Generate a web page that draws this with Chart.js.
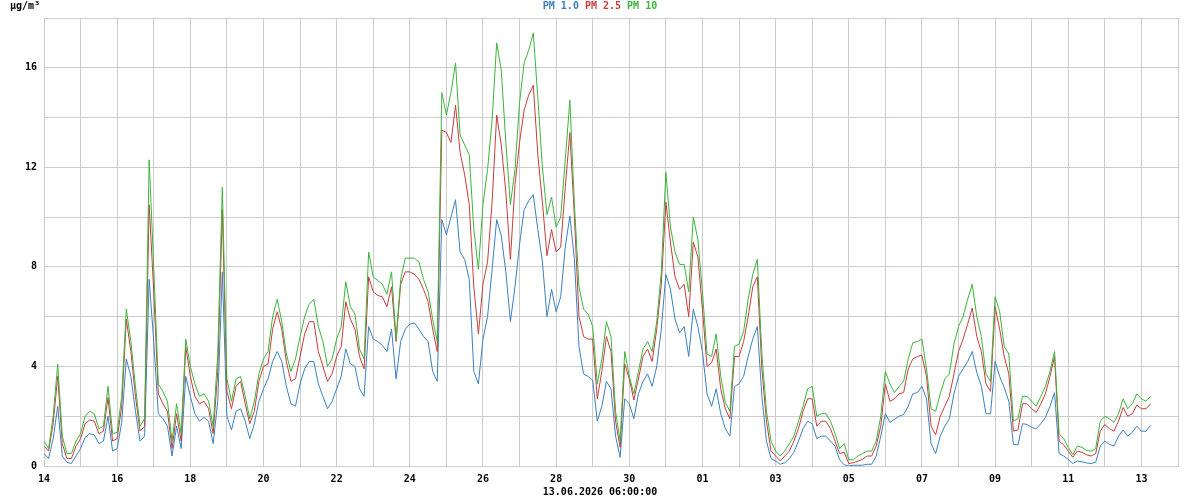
<!DOCTYPE html>
<html>
<head>
<meta charset="utf-8">
<script src="https://cdn.jsdelivr.net/npm/chart.js@4/dist/chart.umd.min.js"></script>
<style>
  body { margin: 0; background: #fff; }
  #wrap { position: relative; width: 1200px; height: 500px; }
  .txt { position: absolute; font: bold 10px "DejaVu Sans Mono", monospace; white-space: pre; line-height: 10px; }
</style>
</head>
<body>
<div id="wrap">
  <canvas id="c" width="1200" height="500"></canvas>
  <div class="txt" style="left:10px; top:1px; color:#000;">µg/m³</div>
  <div class="txt" style="left:0; width:1200px; top:1px; text-align:center;"><span style="color:#3a80c0">PM 1.0</span> <span style="color:#c83c3c">PM 2.5</span> <span style="color:#3cb43c">PM 10</span></div>
  <div class="txt" style="left:0; width:1200px; top:487px; text-align:center; color:#000;">13.06.2026 06:00:00</div>
</div>
<script>
// samples every 3 hours, from 14.05.2026 00:00 to 13.06.2026 06:00
const startDay = 14;        // 14 May 2026
const stepHours = 3;
const daysShown = 31;

const pm10 = [
  1.0, 0.7, 2.0, 4.1, 1.2, 0.5, 0.5, 1.0,
  1.3, 2.0, 2.2, 2.1, 1.5, 1.6, 3.2, 1.3,
  1.35, 2.8, 6.3, 5.0, 3.2, 1.6, 1.9, 12.3,
  8.0, 3.3, 3.0, 2.6, 1.0, 2.5, 1.3, 5.1,
  4.0, 3.3, 2.8, 2.9, 2.6, 1.6, 4.5, 11.2,
  3.5, 2.6, 3.5, 3.6, 2.8, 1.9, 2.6, 3.7,
  4.3, 4.6, 6.0, 6.7, 5.8, 4.5, 3.8, 4.3,
  5.2, 6.0, 6.5, 6.7, 5.6, 5.0, 4.0, 4.3,
  5.1, 5.6, 7.4, 6.4, 6.1, 4.7, 4.3, 8.6,
  7.6, 7.45, 7.3, 6.9, 7.8, 5.1, 7.5, 8.35,
  8.35, 8.35, 8.2, 7.5, 7.0, 5.9, 5.0, 15.0,
  14.1, 15.0, 16.2, 13.3, 12.9, 12.5, 9.5, 7.9,
  10.5, 11.9, 13.9, 17.0, 15.9, 13.0, 10.5, 11.9,
  14.6, 16.2, 16.7, 17.4, 14.8, 12.0, 10.1, 10.8,
  9.6, 10.0, 12.3, 14.7, 10.5, 7.2, 6.3, 6.1,
  5.6, 3.3, 4.3, 5.8, 5.2, 2.2, 1.0, 4.6,
  3.6, 2.9, 3.8, 4.7, 5.0, 4.6, 5.8, 7.8,
  11.8, 9.6, 8.6, 8.1, 8.1, 7.0, 10.0, 9.1,
  7.0, 4.5, 4.4, 5.3, 3.6, 2.55, 2.2, 4.8,
  4.9, 5.4, 6.7, 7.7, 8.3, 4.5, 2.2, 1.0,
  0.6, 0.4, 0.6, 0.9, 1.2, 1.8, 2.4, 3.1,
  3.2, 2.0, 2.1, 2.1, 1.8, 1.3, 0.7, 0.9,
  0.25, 0.25, 0.4, 0.5, 0.6, 0.6, 1.0, 2.0,
  3.8, 3.3, 2.95, 3.2, 3.4, 4.3, 4.95, 5.0,
  5.1, 3.9, 2.3, 2.2, 2.9, 3.5, 3.7, 4.9,
  5.6, 6.0, 6.7, 7.3, 6.0, 5.2, 3.7, 3.4,
  6.8, 6.2, 4.8, 4.5, 1.8, 1.9, 2.8, 2.8,
  2.6, 2.4, 2.8, 3.2, 3.8, 4.6, 1.3, 1.1,
  0.75, 0.45, 0.8, 0.75, 0.62, 0.6, 0.7, 1.8,
  2.0, 1.9, 1.75, 2.1, 2.7, 2.3, 2.5, 2.9,
  2.7, 2.6, 2.8
];

const pm25 = [
  0.8, 0.6, 1.7, 3.6, 0.9, 0.3, 0.3, 0.8,
  1.1, 1.7, 1.85, 1.8, 1.3, 1.4, 2.75, 1.0,
  1.1, 2.4, 5.9, 4.6, 2.8, 1.4, 1.6, 10.5,
  7.0, 2.9, 2.5, 2.2, 0.7, 2.1, 1.0, 4.8,
  3.6, 2.8, 2.5, 2.6, 2.3, 1.3, 3.8, 10.3,
  3.0, 2.3, 3.2, 3.4, 2.5, 1.7, 2.2, 3.4,
  4.0, 4.1, 5.5, 6.2, 5.5, 4.2, 3.4, 3.5,
  4.4, 5.3, 5.8, 5.8, 4.6, 4.0, 3.4, 3.7,
  4.4, 4.8, 6.6, 5.9, 5.5, 4.4, 3.9, 7.6,
  7.0, 6.85, 6.8, 6.4, 7.2, 5.0, 7.3, 7.8,
  7.8, 7.7, 7.5, 7.1, 6.6, 5.5, 4.6, 13.5,
  13.4, 13.0, 14.5, 12.6, 11.7, 10.5, 7.2, 5.3,
  7.3, 8.2, 10.6, 14.1, 12.9, 11.0, 8.3, 11.3,
  13.0, 14.3, 14.9, 15.3, 12.5, 10.6, 8.45, 9.5,
  8.6, 8.8, 11.2, 13.4, 10.0, 6.0, 5.2, 5.1,
  5.1, 2.7, 3.8, 5.2, 4.6, 1.8, 0.75, 4.1,
  3.5, 2.65, 3.5, 4.4, 4.7, 4.2, 5.5, 7.3,
  10.6, 9.0, 7.6, 7.1, 7.3, 6.0, 9.0, 8.4,
  6.3, 4.0, 4.15, 4.7, 3.1, 2.3, 1.9, 4.4,
  4.4, 5.0, 6.0, 7.2, 7.6, 3.9, 1.8, 0.6,
  0.4, 0.2, 0.4, 0.6, 1.0, 1.5, 2.2, 2.7,
  2.7, 1.6, 1.8, 1.8, 1.5, 1.0, 0.5, 0.55,
  0.1, 0.13, 0.2, 0.27, 0.4, 0.4, 0.8, 1.6,
  3.3, 2.6, 2.7, 2.9, 2.95, 3.9, 4.3, 4.4,
  4.45, 3.6, 1.6, 1.25, 2.0, 2.4, 2.8, 3.7,
  4.6, 5.1, 5.7, 6.35, 5.2, 4.6, 3.3, 3.0,
  6.4, 5.5, 4.4, 3.7, 1.4, 1.45, 2.5, 2.5,
  2.3, 2.15, 2.5, 2.9, 3.6, 4.4, 1.0, 0.85,
  0.6, 0.35, 0.6, 0.55, 0.45, 0.4, 0.5, 1.4,
  1.67, 1.5, 1.4, 1.8, 2.35, 2.0, 2.1, 2.45,
  2.3, 2.3, 2.5
];

const pm1 = [
  0.5, 0.3, 1.1, 2.4, 0.4, 0.15, 0.1, 0.4,
  0.7, 1.15, 1.3, 1.25, 0.9, 1.0, 2.0, 0.6,
  0.7, 1.75, 4.3, 3.6, 2.2, 1.0, 1.2, 7.5,
  5.0, 2.1, 1.9, 1.6, 0.4, 1.6, 0.7, 3.6,
  2.8, 2.1, 1.8, 1.95, 1.8, 0.9, 2.6, 7.8,
  2.0, 1.45, 2.2, 2.3, 1.8, 1.1, 1.7, 2.6,
  3.1, 3.5, 4.2, 4.6, 4.2, 3.2, 2.5, 2.4,
  3.3, 3.9, 4.2, 4.2, 3.3, 2.8, 2.3, 2.6,
  3.1, 3.6, 4.7, 4.1, 4.0, 3.1, 2.8, 5.6,
  5.1, 5.0, 4.85, 4.6, 5.5, 3.5, 5.0, 5.5,
  5.7, 5.75, 5.5, 5.2, 5.0, 3.8, 3.4, 9.9,
  9.3, 10.0, 10.7, 8.6, 8.3, 7.5, 3.8, 3.3,
  5.1, 6.0, 7.9, 9.9, 9.25, 7.8, 5.8, 7.2,
  8.9, 10.3, 10.65, 10.9, 9.5, 8.2, 6.0, 7.1,
  6.2, 6.8, 8.8, 10.05, 8.3, 4.8, 3.7, 3.6,
  3.45, 1.8, 2.4, 3.4, 3.1, 1.2, 0.35, 2.7,
  2.5, 1.9, 2.9, 3.4, 3.7, 3.2, 4.0, 5.5,
  7.7, 7.1, 5.9, 5.35, 5.6, 4.4, 6.3, 5.6,
  4.6, 2.9, 2.4, 3.1, 2.1, 1.5, 1.2, 3.2,
  3.3, 3.6, 4.4, 5.1, 5.6, 2.8, 1.0, 0.3,
  0.2, 0.07, 0.13, 0.3, 0.55, 1.0, 1.5, 1.8,
  1.7, 1.1, 1.2, 1.2, 1.0, 0.8, 0.25, 0.05,
  0.0, 0.03, 0.03, 0.03, 0.07, 0.07, 0.4, 1.2,
  2.1, 1.75, 1.87, 2.0, 2.07, 2.4, 2.9, 2.95,
  3.2, 2.7, 0.9, 0.5, 1.2, 1.6, 1.9, 2.9,
  3.6, 3.9, 4.2, 4.6, 3.75, 3.2, 2.1, 2.1,
  4.2, 3.6, 3.15, 2.6, 0.87, 0.85, 1.7, 1.67,
  1.55, 1.5, 1.7, 1.95, 2.4, 2.95, 0.5, 0.4,
  0.27, 0.1, 0.2, 0.17, 0.12, 0.1, 0.15, 0.8,
  1.0, 0.87, 0.8, 1.2, 1.45, 1.2, 1.35, 1.6,
  1.4, 1.4, 1.63
];

const yGridValues = [0, 2, 4, 6, 8, 10, 12, 14, 16, 18];
const yTickLabels = [0, 4, 8, 12, 16];

const hours = pm1.map((_, i) => i * stepHours);
const dayTicks = [];
for (let d = 0; d <= daysShown; d++) dayTicks.push(d * 24);

const toPoints = (arr) => arr.map((v, i) => ({ x: hours[i], y: v }));
const tickFont = { family: "'DejaVu Sans Mono', monospace", size: 10, weight: "bold" };

new Chart(document.getElementById("c").getContext("2d"), {
  type: "line",
  data: {
    datasets: [
      { label: "PM 10", data: toPoints(pm10), borderColor: "#3cb43c", order: 0 },
      { label: "PM 2.5", data: toPoints(pm25), borderColor: "#c83c3c", order: 1 },
      { label: "PM 1.0", data: toPoints(pm1), borderColor: "#3a80c0", order: 2 },
    ],
  },
  options: {
    responsive: false,
    devicePixelRatio: 1,
    animation: false,
    layout: { padding: { top: 18, right: 22, left: 0, bottom: 0 } },
    elements: {
      line: { borderWidth: 1, tension: 0, fill: false },
      point: { radius: 0 },
    },
    plugins: { legend: { display: false }, tooltip: { enabled: false } },
    scales: {
      x: {
        type: "linear",
        min: 0,
        max: daysShown * 24,
        afterBuildTicks: (axis) => { axis.ticks = dayTicks.map((v) => ({ value: v })); },
        afterFit: (axis) => { axis.height = 34; },
        grid: { color: "#cccccc", lineWidth: 1, drawTicks: false },
        border: { display: true, color: "#cccccc" },
        ticks: {
          autoSkip: false,
          maxRotation: 0,
          padding: 7,
          color: "#000",
          font: tickFont,
          callback: (value) => {
            const d = Math.round(value / 24);
            if (d % 2 !== 0) return "";
            const dt = new Date(2026, 4, startDay + d);
            return String(dt.getDate()).padStart(2, "0");
          },
        },
      },
      y: {
        min: 0,
        max: 18,
        afterBuildTicks: (axis) => { axis.ticks = yGridValues.map((v) => ({ value: v })); },
        afterFit: (axis) => { axis.width = 44; },
        grid: { color: "#cccccc", lineWidth: 1, drawTicks: false },
        border: { display: true, color: "#cccccc" },
        ticks: {
          padding: 7,
          color: "#000",
          font: tickFont,
          callback: (value) => (yTickLabels.includes(value) ? String(value) : ""),
        },
      },
    },
  },
});
</script>
</body>
</html>
